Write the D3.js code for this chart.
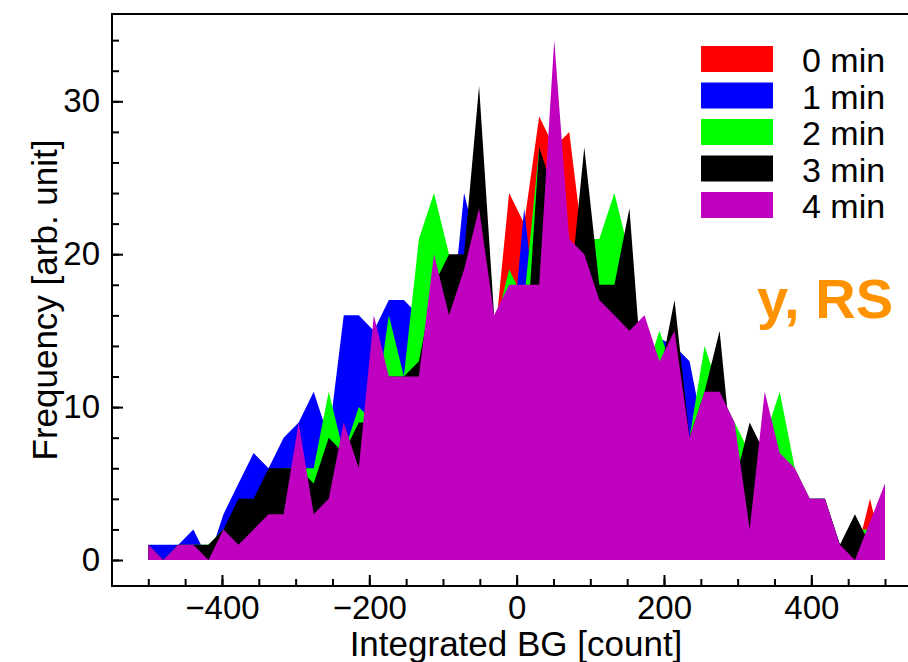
<!DOCTYPE html>
<html>
<head>
<meta charset="utf-8">
<script src="https://cdn.jsdelivr.net/npm/d3@7"></script>
<style>
  html, body { margin: 0; padding: 0; background: #fff; }
  svg { display: block; }
  text { font-family: "Liberation Sans", Arial, Helvetica, sans-serif; }
</style>
</head>
<body>
<svg id="chart" width="908" height="662"></svg>
<script>
// ---- data ----
const binCenters = [-500, -479.6, -459.2, -438.8, -418.4, -398.0, -377.6, -357.1, -336.7, -316.3,
  -295.9, -275.5, -255.1, -234.7, -214.3, -193.9, -173.5, -153.1, -132.7, -112.2,
  -91.8, -71.4, -51.0, -30.6, -10.2, 10.2, 30.6, 51.0, 71.4, 91.8,
  112.2, 132.7, 153.1, 173.5, 193.9, 214.3, 234.7, 255.1, 275.5, 295.9,
  316.3, 336.7, 357.1, 377.6, 398.0, 418.4, 438.8, 459.2, 479.6, 500];

const min0 = [1,0,1,1,0,2,3,4,5,6, 7,5,6,8,10,12,13,12,14,18, 15,16,17,14,24,22,29,27,28,20,
  17,17,16,14,12,12,8,9,10,8, 6,7,6,5,4,3,1,0,4,0];
const min1 = [1,1,1,2,0,3,5,7,6,8, 9,11,8,16,16,15,17,17,16,20, 14,24,20,16,12,23,14,18,17,18,
  17,18,17,12,14.5,14,13,8,10,8, 6,7,6,5,4,4,1,1,1,3];
const min2 = [1,0,1,1,1,2,3,4,5,6, 6,6,11,7,10,9,16,12,21,24, 20,17,17,15,19,17,27,22,18,21,
  21,24,20,12,15,12,8,14,11,9, 7,8,11,6,4,4,1,2,2,3];
const min3 = [1,0,1,1,1,2,4,4,6,6, 6,5,8,7,9,9,12,12,13,18, 20,20,31,16,16,12,27,24,17,27,
  18,18,23,10,12,17,8,11,15,5, 9,7,6,5,4,4,1,3,1,2];
const min4 = [1,0,1,1,0,2,1,2,3,3, 9,3,4,9,6,16,12,12,12,20, 16,19,23,16,18,18,18,34,21,20,
  17,16,15,16,13,15,8,11,11,9, 2,11,7,6,4,4,1,0,2.5,5];

const seriesNames = ["0 min", "1 min", "2 min", "3 min", "4 min"];
const seriesValues = [min0, min1, min2, min3, min4];
const seriesColors = ["#ff0000", "#0000ff", "#00ff00", "#000000", "#bf00bf"];

const xTickValues = [-400, -200, 0, 200, 400];
const xMinorTicks = d3.range(-500, 501, 50);
const yTickValues = [0, 10, 20, 30];
const yMinorTicks = d3.range(0, 35, 2);

const xTitle = "Integrated BG [count]";
const yTitle = "Frequency [arb. unit]";
const annotation = "y, RS";

// ---- layout ----
const svg = d3.select("#chart");
const frame = { left: 112, top: 14, right: 912, bottom: 586 };
const TICK_FONT = 33;
const TITLE_FONT = 35;
const LEGEND_FONT = 34;

const x = d3.scaleLinear().domain([-500, 500]).range([148.3, 885]);
const y = d3.scaleLinear().domain([0, 30]).range([560, 101.3]);

// ---- areas ----
const area = d3.area()
  .x((d, i) => x(binCenters[i]))
  .y0(y(0))
  .y1(d => y(d));

svg.append("g").selectAll("path")
  .data(seriesValues)
  .join("path")
  .attr("d", d => area(d))
  .attr("fill", (d, i) => seriesColors[i])
  .attr("stroke", "none");

// ---- frame ----
svg.append("rect")
  .attr("x", frame.left).attr("y", frame.top)
  .attr("width", frame.right - frame.left)
  .attr("height", frame.bottom - frame.top)
  .attr("fill", "none").attr("stroke", "#000").attr("stroke-width", 2);

// ---- axes ----
function styleAxis(g) {
  g.select(".domain").remove();
  g.selectAll(".tick line").attr("stroke", "#000").attr("stroke-width", 2);
  g.selectAll(".tick text").attr("fill", "#000")
    .style("font-size", TICK_FONT + "px")
    .style("font-family", '"Liberation Sans", Arial, Helvetica, sans-serif');
}

svg.append("g")
  .attr("transform", `translate(0,${frame.bottom})`)
  .call(d3.axisBottom(x).tickValues(xMinorTicks).tickSize(-7).tickFormat(""))
  .call(styleAxis);
svg.append("g")
  .attr("transform", `translate(0,${frame.bottom})`)
  .call(d3.axisBottom(x).tickValues(xTickValues).tickSize(-11).tickPadding(10))
  .call(styleAxis);

svg.append("g")
  .attr("transform", `translate(${frame.left},0)`)
  .call(d3.axisLeft(y).tickValues(yMinorTicks).tickSize(-7).tickFormat(""))
  .call(styleAxis);
svg.append("g")
  .attr("transform", `translate(${frame.left},0)`)
  .call(d3.axisLeft(y).tickValues(yTickValues).tickSize(-11).tickPadding(12))
  .call(styleAxis);

// ---- titles ----
svg.append("text")
  .attr("x", 516).attr("y", 656)
  .attr("text-anchor", "middle")
  .style("font-size", TITLE_FONT + "px")
  .text(xTitle);

svg.append("text")
  .attr("transform", "translate(57,300) rotate(-90)")
  .attr("text-anchor", "middle")
  .style("font-size", TITLE_FONT + "px")
  .text(yTitle);

// ---- legend ----
const legend = svg.append("g");
seriesNames.forEach((name, i) => {
  const base = 72 + i * 36.5;
  legend.append("rect")
    .attr("x", 701).attr("y", base - 26)
    .attr("width", 72).attr("height", 26)
    .attr("fill", seriesColors[i]);
  legend.append("text")
    .attr("x", 802).attr("y", base)
    .style("font-size", LEGEND_FONT + "px")
    .attr("fill", "#000")
    .text(name);
});

// ---- annotation ----
svg.append("text")
  .attr("x", 893).attr("y", 318)
  .attr("text-anchor", "end")
  .style("font-size", "56px")
  .style("font-weight", "bold")
  .attr("fill", "#ff9200")
  .text(annotation);
</script>
</body>
</html>
